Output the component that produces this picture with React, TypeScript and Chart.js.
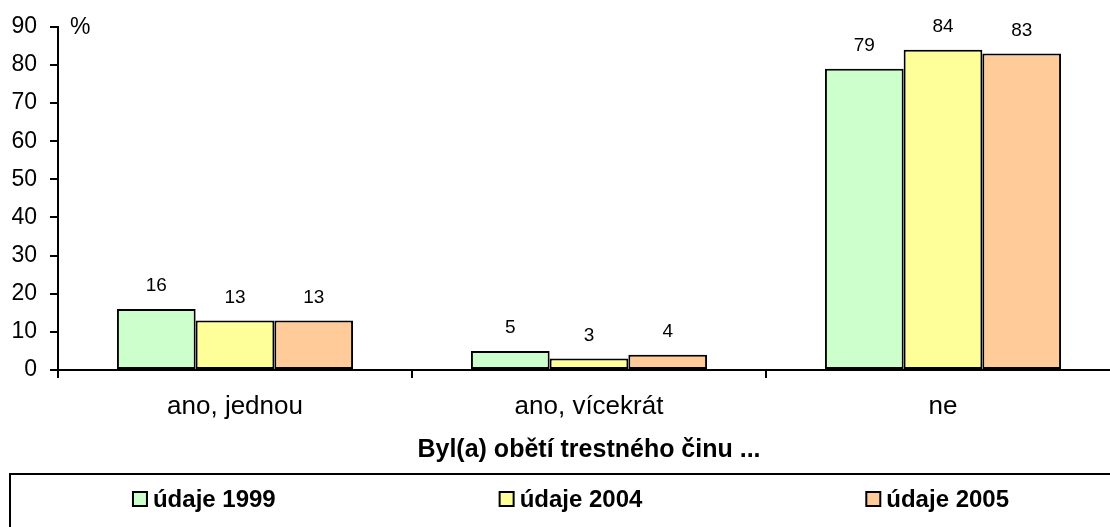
import React, { useEffect, useRef } from "react";
import { Chart, registerables } from "chart.js";

Chart.register(...registerables);

const categories = ["ano, jednou", "ano, vícekrát", "ne"];
const seriesLabels = ["údaje 1999", "údaje 2004", "údaje 2005"];
const values1999 = [16, 5, 79];
const values2004 = [13, 3, 84];
const values2005 = [13, 4, 83];
const seriesColors = ["#CCFFCC", "#FFFF99", "#FFCC99"];
const yMin = 0;
const yMax = 90;
const yStep = 10;
const unitLabel = "%";
const axisTitle = "Byl(a) obětí trestného činu ...";

const FONT = "'Liberation Sans', Arial, Helvetica, sans-serif";

const valueLabelPlugin = {
  id: "valueLabels",
  afterDatasetsDraw(chart: any) {
    const ctx = chart.ctx;
    ctx.save();
    ctx.font = `19px ${FONT}`;
    ctx.fillStyle = "#000";
    ctx.textAlign = "center";
    ctx.textBaseline = "middle";
    chart.data.datasets.forEach((ds: any, di: number) => {
      const meta = chart.getDatasetMeta(di);
      meta.data.forEach((el: any, i: number) => {
        ctx.fillText(String(ds.data[i]), el.x, el.y - 23);
      });
    });
    ctx.restore();
  },
};

const extrasPlugin = {
  id: "extras",
  afterDraw(chart: any) {
    const ctx = chart.ctx;
    const area = chart.chartArea;
    ctx.save();
    // unit label
    ctx.font = `23px ${FONT}`;
    ctx.fillStyle = "#000";
    ctx.textAlign = "left";
    ctx.textBaseline = "middle";
    ctx.fillText(unitLabel, area.left + 12, area.top + 1);

    // legend box
    const boxLeft = 10;
    const boxTop = 474;
    const boxW = 1120;
    ctx.strokeStyle = "#000";
    ctx.lineWidth = 2;
    ctx.strokeRect(boxLeft, boxTop, boxW, 120);

    ctx.font = `bold 24px ${FONT}`;
    const n = chart.data.datasets.length;
    const innerLeft = 21;
    const innerW = 1100;
    const colW = innerW / n;
    const cy = 499;
    chart.data.datasets.forEach((ds: any, i: number) => {
      const tw = ctx.measureText(ds.label).width;
      const sq = 14;
      const gap = 6;
      const itemW = sq + gap + tw;
      const cx = innerLeft + colW * (i + 0.5);
      const sx = cx - itemW / 2;
      ctx.fillStyle = ds.backgroundColor;
      ctx.fillRect(sx, cy - sq / 2, sq, sq);
      ctx.lineWidth = 2;
      ctx.strokeStyle = "#000";
      ctx.strokeRect(sx, cy - sq / 2, sq, sq);
      ctx.fillStyle = "#000";
      ctx.textAlign = "left";
      ctx.textBaseline = "middle";
      ctx.fillText(ds.label, sx + sq + gap, cy + 1);
    });
    ctx.restore();
  },
};

export default function App() {
  const ref = useRef<HTMLCanvasElement>(null);

  useEffect(() => {
    if (!ref.current) return;
    const seriesValues = [values1999, values2004, values2005];
    const chart = new Chart(ref.current, {
      type: "bar",
      data: {
        labels: categories,
        datasets: seriesLabels.map((label, i) => ({
          label,
          data: seriesValues[i],
          backgroundColor: seriesColors[i],
          borderColor: "#000",
          borderWidth: 2,
          borderSkipped: false,
          barPercentage: 1,
          categoryPercentage: 0.667,
        })),
      },
      options: {
        responsive: false,
        animation: false,
        layout: { padding: { top: 24, left: 0, right: 10, bottom: 70 } },
        plugins: {
          legend: { display: false },
          tooltip: { enabled: false },
          title: { display: false },
        },
        scales: {
          x: {
            grid: {
              display: true,
              drawOnChartArea: false,
              drawTicks: true,
              tickLength: 8,
              color: "#000",
              lineWidth: 2,
            },
            border: { display: true, color: "#000", width: 2 },
            ticks: {
              color: "#000",
              font: { family: FONT, size: 26 },
              padding: 13,
              maxRotation: 0,
            },
            title: {
              display: true,
              text: axisTitle,
              color: "#000",
              font: { family: FONT, size: 25, weight: "bold" },
              padding: 5,
            },
            afterFit(scale: any) {
              scale.height = 100;
            },
          },
          y: {
            min: yMin,
            max: yMax,
            ticks: {
              stepSize: yStep,
              color: "#000",
              font: { family: FONT, size: 23 },
              padding: 13,
            },
            grid: {
              display: true,
              drawOnChartArea: false,
              drawTicks: true,
              tickLength: 8,
              color: "#000",
              lineWidth: 2,
            },
            border: { display: true, color: "#000", width: 2 },
            afterFit(scale: any) {
              scale.width = 58;
            },
          },
        },
      },
      plugins: [valueLabelPlugin, extrasPlugin],
    });
    return () => chart.destroy();
  }, []);

  return (
    <div
      style={{
        position: "fixed",
        left: 0,
        top: 0,
        width: 1110,
        height: 527,
        overflow: "hidden",
        background: "#fff",
      }}
    >
      <canvas
        ref={ref}
        width={1130}
        height={540}
        style={{ width: 1130, height: 540, display: "block" }}
      />
    </div>
  );
}
